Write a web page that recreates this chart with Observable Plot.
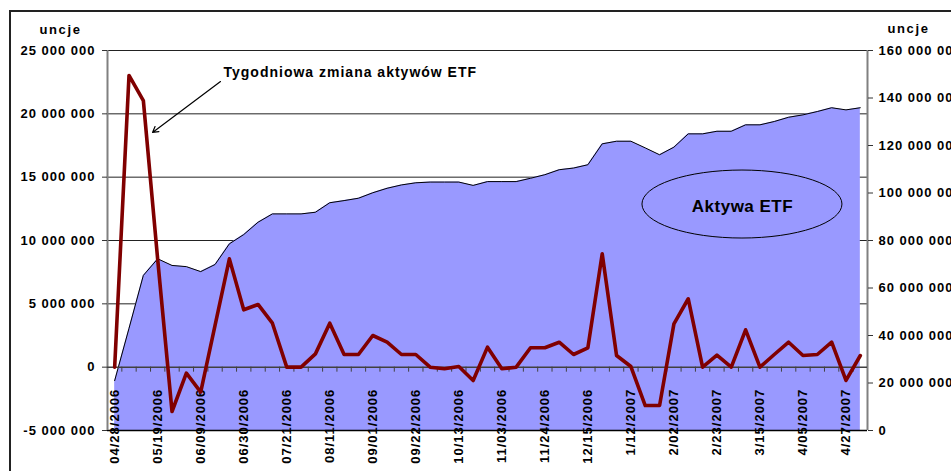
<!DOCTYPE html>
<html><head><meta charset="utf-8">
<script src="https://cdn.jsdelivr.net/npm/d3@7"></script>
<script src="https://cdn.jsdelivr.net/npm/@observablehq/plot@0.6"></script>
<style>
html,body{margin:0;padding:0;background:#fff;overflow:hidden;}
#wrap{position:relative;width:951px;height:471px;overflow:hidden;}
#border{position:absolute;left:9px;top:10px;width:1000px;height:500px;border:2px solid #222;pointer-events:none;box-sizing:border-box;}
</style></head>
<body><div id="wrap"><div id="chart"></div><div id="border"></div></div>
<script>
// Category tick labels (every third week)
const tickLabels = ["04/28/2006","05/19/2006","06/09/2006","06/30/2006","07/21/2006","08/11/2006",
  "09/01/2006","09/22/2006","10/13/2006","11/03/2006","11/24/2006","12/15/2006",
  "1/12/2007","2/02/2007","2/23/2007","3/15/2007","4/05/2007","4/27/2007"];
// ETF assets (ounces, right axis), one value per week
const assets = [21.0,43.0,65.3,72.3,69.5,69.0,66.9,69.9,78.6,82.5,87.7,
  91.2,91.2,91.2,91.9,95.9,96.8,97.8,100.1,102.0,103.4,104.3,
  104.6,104.6,104.6,103.2,104.8,104.8,104.8,106.2,107.7,109.8,
  110.5,111.9,120.7,121.8,121.8,119.0,116.1,119.3,124.9,124.9,126.0,
  126.0,128.7,128.7,130.1,131.9,132.9,134.3,135.9,135.0,135.9].map(v => v * 1e6);
// Weekly change of ETF assets (ounces, left axis)
const weeklyChange = [0,23.03,21.05,8.5,-3.5,-0.47,-1.97,3.3,8.55,4.53,4.95,
  3.47,0,0,1.05,3.47,1.0,1.0,2.5,1.97,1.0,1.0,
  0,-0.13,0.05,-1.05,1.58,-0.13,0,1.53,1.53,1.97,
  1.0,1.53,8.95,0.92,0.05,-3.03,-3.03,3.42,5.4,0,0.95,
  0,2.95,0,1.0,1.97,0.92,1.0,1.97,-1.05,0.92].map(v => v * 1e6);
const leftTicks = [-5e6, 0, 5e6, 10e6, 15e6, 20e6, 25e6];
const rightTicks = [0, 20e6, 40e6, 60e6, 80e6, 100e6, 120e6, 140e6, 160e6];
const leftDomain = [-5e6, 25e6];
const rightDomain = [0, 160e6];
const labelEvery = 3;

// annotations (data coordinates: week index, left-axis value)
const arrowNote = [{x1: 7.38, y1: 22.55e6, x2: 2.64, y2: 18.53e6}];
const lineNote = [{x: 7.59, y: 23.3e6, text: "Tygodniowa zmiana aktywów ETF"}];
const areaNote = [{x: 43.78, y: 12.84e6, text: "Aktywa ETF"}];

const n = assets.length;
const xDomain = [-0.5, n - 0.5];
const toLeft = v => leftDomain[0] + (v - rightDomain[0]) * (leftDomain[1] - leftDomain[0]) / (rightDomain[1] - rightDomain[0]);
const fromLeft = d => Math.round(rightDomain[0] + (d - leftDomain[0]) * (rightDomain[1] - rightDomain[0]) / (leftDomain[1] - leftDomain[0]));
const fmt = d => d3.format(",")(d).replace(/,/g, " ").replace("\u2212", "-");

const idx = d3.range(n);
const rows = idx.map(i => ({i, asset: toLeft(assets[i]), change: weeklyChange[i]}));
const labelRows = tickLabels.map((t, k) => ({i: k * labelEvery, t}));
const catTicks = d3.range(0, n - 1).map(i => i + 0.5);

const chart = Plot.plot({
  width: 951, height: 471,
  marginLeft: 107, marginRight: 84, marginTop: 50, marginBottom: 41,
  style: {fontFamily: "'Liberation Sans', Arial, sans-serif", fontSize: "13px", fontWeight: "bold",
          letterSpacing: "1px", background: "white", color: "#000", overflow: "visible"},
  x: {domain: xDomain, axis: null},
  y: {domain: leftDomain, axis: null},
  marks: [
    Plot.ruleY(leftTicks.filter(d => d > 0), {stroke: "#222", strokeWidth: 1}),
    Plot.areaY(rows, {x: "i", y1: leftDomain[0], y2: "asset", fill: "#9999FF", fillOpacity: 1}),
    Plot.line(rows, {x: "i", y: "asset", stroke: "#000", strokeWidth: 1}),
    Plot.ruleY([leftDomain[0]], {stroke: "#000", strokeWidth: 1.5}),
    Plot.ruleX([xDomain[0]], {stroke: "#808080", strokeWidth: 2}),
    Plot.ruleX([xDomain[1]], {stroke: "#808080", strokeWidth: 2}),
    Plot.axisY({anchor: "left", ticks: leftTicks, tickFormat: fmt, tickSize: 5, tickPadding: 7,
      stroke: "#333", fontSize: 13, fontWeight: "bold"}),
    Plot.axisY({anchor: "right", ticks: rightTicks.map(toLeft), tickFormat: d => fmt(fromLeft(d)),
      tickSize: 5, tickPadding: 6, stroke: "#333", fontSize: 13, fontWeight: "bold"}),
    Plot.ruleY([0], {stroke: "#404040", strokeWidth: 1.5}),
    Plot.ruleX(catTicks, {x: d => d, y1: 0, y2: 0, insetBottom: -5, stroke: "#404040", strokeWidth: 1}),
    Plot.text(labelRows, {x: "i", y: 0, text: "t", rotate: -90, textAnchor: "end", lineAnchor: "middle",
      dy: 21.5, fontSize: 13, fontWeight: "bold", fill: "#000"}),
    Plot.line(rows, {x: "i", y: "change", stroke: "#800000", strokeWidth: 3.6, strokeLinejoin: "round"}),
    Plot.arrow(arrowNote, {x1: "x1", y1: "y1", x2: "x2", y2: "y2", stroke: "#000", strokeWidth: 1.2, headLength: 8}),
    Plot.text(lineNote, {x: "x", y: "y", text: "text", textAnchor: "start", lineAnchor: "middle",
      fontSize: 14, fontWeight: "bold", fill: "#000"}),
    Plot.text(areaNote, {x: "x", y: "y", text: "text", textAnchor: "middle", lineAnchor: "middle",
      dy: 2, fontSize: 17, fontWeight: "bold", fill: "#000"}),
    Plot.text(["uncje"], {frameAnchor: "top-left", dx: -47, dy: -21, textAnchor: "middle",
      lineAnchor: "middle", fontSize: 13, fontWeight: "bold", fill: "#000"}),
    Plot.text(["uncje"], {frameAnchor: "top-right", dx: 41, dy: -22, textAnchor: "middle",
      lineAnchor: "middle", fontSize: 13, fontWeight: "bold", fill: "#000"})
  ]
});

// ellipse around the area label, positioned through the plot's scales
const sx = chart.scale("x"), sy = chart.scale("y");
d3.select(chart).append("ellipse")
  .attr("cx", sx.apply(areaNote[0].x)).attr("cy", sy.apply(areaNote[0].y))
  .attr("rx", 100).attr("ry", 34)
  .attr("fill", "none").attr("stroke", "#000").attr("stroke-width", 1);
d3.select(chart).selectAll("text").filter(function(){ return this.textContent === "Aktywa ETF"; })
  .style("letter-spacing", "0.5px");
d3.select(chart).selectAll("text").filter(function(){ return this.textContent === "uncje"; })
  .style("letter-spacing", "1.6px");
document.getElementById("chart").append(chart);
</script>
</body></html>
